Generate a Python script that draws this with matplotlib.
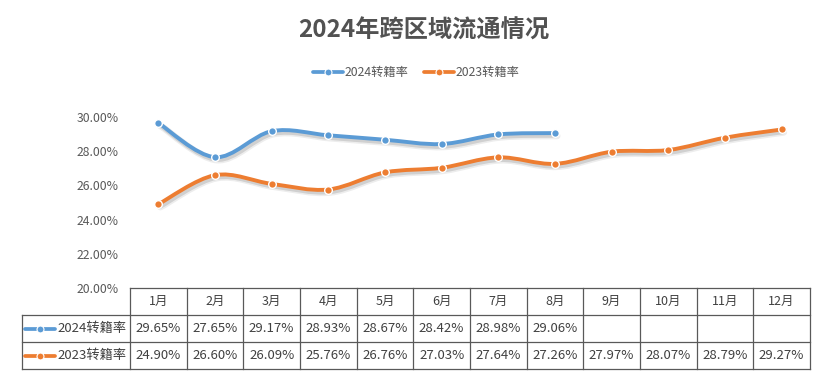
import matplotlib
matplotlib.use('Agg')
import matplotlib.pyplot as plt
from matplotlib.path import Path
from matplotlib.patches import PathPatch
from matplotlib.lines import Line2D
import matplotlib.patheffects as pe

plt.rcParams['font.family'] = ['Noto Sans CJK SC', 'DejaVu Sans']

months = ['1月', '2月', '3月', '4月', '5月', '6月', '7月', '8月', '9月', '10月', '11月', '12月']
rate_2024 = [29.65, 27.65, 29.17, 28.93, 28.67, 28.42, 28.98, 29.06]
rate_2023 = [24.90, 26.60, 26.09, 25.76, 26.76, 27.03, 27.64, 27.26, 27.97, 28.07, 28.79, 29.27]
series_names = ['2024转籍率', '2023转籍率']
colors = ['#5B9BD5', '#ED7D31']
title = '2024年跨区域流通情况'

W, H = 825, 377
fig = plt.figure(figsize=(W / 100, H / 100), dpi=100)

# axes placed in pixel terms (top-left origin)
ax_l, ax_r, ax_t, ax_b = 130, 810, 117, 288
ax = fig.add_axes([ax_l / W, 1 - ax_b / H, (ax_r - ax_l) / W, (ax_b - ax_t) / H])
ax.set_xlim(-0.5, 11.5)
ax.set_ylim(20, 30)
ax.set_yticks([20, 22, 24, 26, 28, 30])
ax.set_yticklabels(['%.2f%%' % v for v in [20, 22, 24, 26, 28, 30]])
ax.tick_params(axis='y', length=0, labelsize=8.8, colors='#595959', pad=8)
ax.set_xticks([])
for s in ax.spines.values():
    s.set_visible(False)
ax.patch.set_alpha(0)


def smooth_path(ys):
    # cubic bezier through the points (excel style smoothing)
    pts = list(enumerate(ys))
    verts = [pts[0]]
    codes = [Path.MOVETO]
    n = len(pts)
    for i in range(n - 1):
        p0 = pts[max(i - 1, 0)]
        p1 = pts[i]
        p2 = pts[i + 1]
        p3 = pts[min(i + 2, n - 1)]
        c1 = (p1[0] + (p2[0] - p0[0]) / 6, p1[1] + (p2[1] - p0[1]) / 6)
        c2 = (p2[0] - (p3[0] - p1[0]) / 6, p2[1] - (p3[1] - p1[1]) / 6)
        verts += [c1, c2, p2]
        codes += [Path.CURVE4] * 3
    return Path(verts, codes)


# soft blurred-ish shadow
shadow = [pe.SimpleLineShadow(offset=(1.5, -2), alpha=0.07, shadow_color='#000000', linewidth=5),
          pe.SimpleLineShadow(offset=(1.2, -1.6), alpha=0.12, shadow_color='#000000', linewidth=3.5),
          pe.Normal()]

for ys, c in zip([rate_2024, rate_2023], colors):
    patch = PathPatch(smooth_path(ys), facecolor='none', edgecolor=c, lw=2.8,
                      capstyle='round', transform=ax.transData, clip_on=False)
    patch.set_path_effects(shadow)
    ax.add_patch(patch)
    ax.plot(range(len(ys)), ys, ls='none', marker='o', ms=5.5, mfc=c, mec='white',
            mew=1.0, clip_on=False, zorder=5)


def fx(px):
    return px / W


def fy(py):
    return 1 - py / H


fig.text(fx(424), fy(31), title, ha='center', va='center', fontsize=17.5,
         fontweight='bold', color='#525252')


def key(x0, y, c):
    fig.add_artist(Line2D([fx(x0), fx(x0 + 30)], [fy(y), fy(y)], color=c, lw=2.7,
                          solid_capstyle='round'))
    fig.add_artist(Line2D([fx(x0 + 15)], [fy(y)], marker='o', ms=5, mfc=c, mec='white',
                          mew=0.8, ls='none'))


# legend on top
leg_x = [313, 424]
for name, c, x0 in zip(series_names, colors, leg_x):
    key(x0, 72, c)
    fig.text(fx(x0 + 32), fy(72), name, ha='left', va='center', fontsize=8.8, color='#595959')

# data table under the axes
grid_c = '#595959'
rows_y = [288, 315, 342, 369]
col_w = (ax_r - ax_l) / 12
lab_l = 22


def hline(x0, x1, y):
    fig.add_artist(Line2D([fx(x0), fx(x1)], [fy(y), fy(y)], color=grid_c, lw=0.9))


def vline(x, y0, y1):
    fig.add_artist(Line2D([fx(x), fx(x)], [fy(y0), fy(y1)], color=grid_c, lw=0.9))


hline(ax_l, ax_r, rows_y[0])
for y in rows_y[1:]:
    hline(lab_l, ax_r, y)
vline(lab_l, rows_y[1], rows_y[3])
for i in range(13):
    vline(ax_l + i * col_w, rows_y[0], rows_y[3])

for i, m in enumerate(months):
    fig.text(fx(ax_l + (i + 0.5) * col_w), fy((rows_y[0] + rows_y[1]) / 2), m,
             ha='center', va='center', fontsize=9, color='#404040')

for r, (name, c, ys) in enumerate(zip(series_names, colors, [rate_2024, rate_2023])):
    yc = (rows_y[r + 1] + rows_y[r + 2]) / 2
    key(lab_l + 3, yc, c)
    fig.text(fx(lab_l + 35), fy(yc), name, ha='left', va='center', fontsize=9.5, color='#404040')
    for i, v in enumerate(ys):
        fig.text(fx(ax_l + (i + 0.5) * col_w), fy(yc), '%.2f%%' % v,
                 ha='center', va='center', fontsize=9.5, color='#404040')

fig.savefig('out.png', dpi=100, facecolor='white')
